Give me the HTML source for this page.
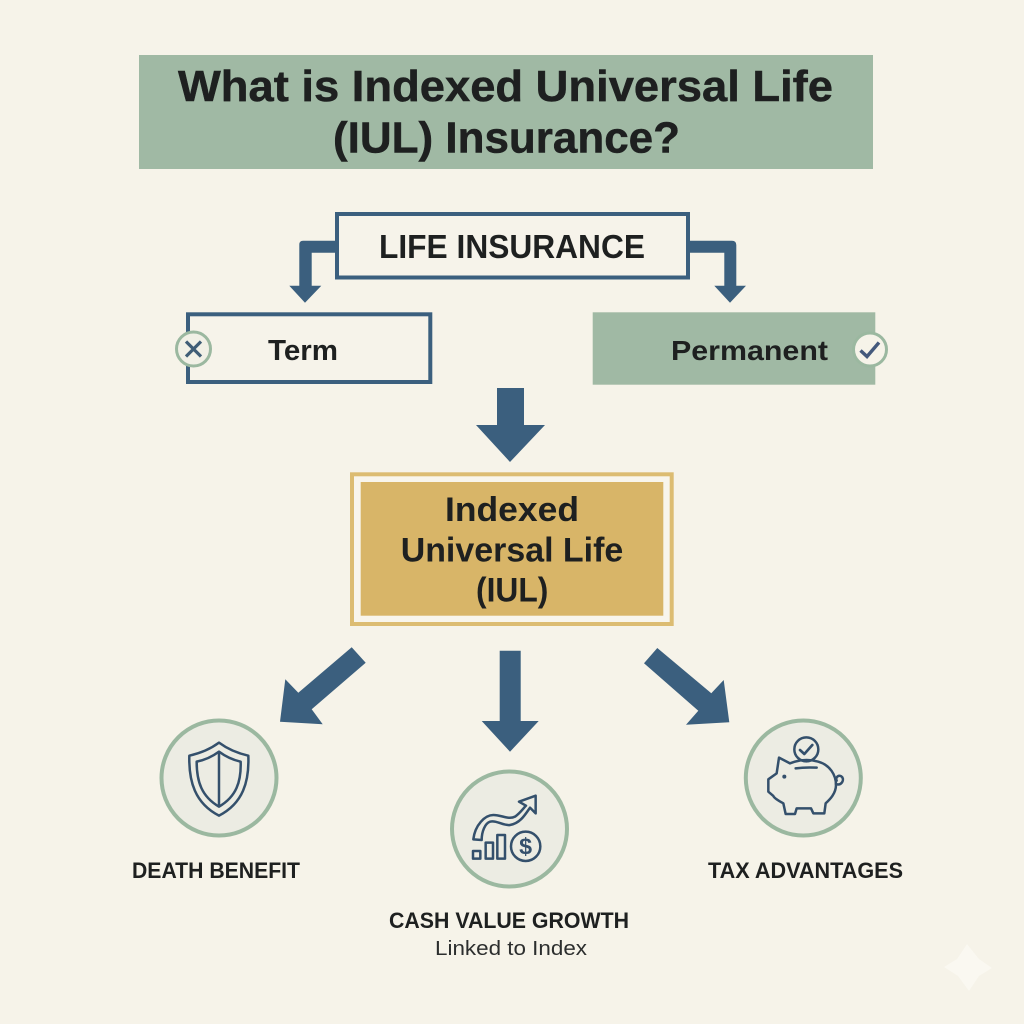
<!DOCTYPE html>
<html lang="en">
<head>
<meta charset="utf-8">
<title>What is Indexed Universal Life (IUL) Insurance?</title>
<style>
html,body{margin:0;padding:0;background:#f6f3e9}
svg{display:block}
text{font-family:"Liberation Sans",sans-serif;font-weight:700;fill:#1e2020}
</style>
</head>
<body>
<svg xmlns="http://www.w3.org/2000/svg" width="1024" height="1024" viewBox="0 0 1024 1024">
<rect width="1024" height="1024" fill="#f6f3e9"/>

<!-- Title -->
<rect x="139" y="55" width="734" height="114" fill="#a0b9a4"/>
<text x="178" y="101" font-size="44" textLength="655" lengthAdjust="spacingAndGlyphs" stroke="#1e2020" stroke-width=".5">What is Indexed Universal Life</text>
<text x="333" y="152.5" font-size="44" textLength="347" lengthAdjust="spacingAndGlyphs" stroke="#1e2020" stroke-width=".5">(IUL) Insurance?</text>

<!-- Life insurance -->
<rect x="337" y="214" width="351" height="63.5" fill="#f6f3ea" stroke="#3b5f7e" stroke-width="4"/>
<text x="379" y="258" font-size="33" textLength="266" lengthAdjust="spacingAndGlyphs">LIFE INSURANCE</text>

<!-- Elbow arrows -->
<path d="M335 240.7H303Q299.3 240.7 299.3 244.5V285.7H289.3L305 302.7L321.3 285.7H311.7V252.7H335Z" fill="#3b5f7e"/>
<path d="M690 240.7H732Q736.3 240.7 736.3 245V285.7H746L730 302.7L714.3 285.7H724.3V252.7H690Z" fill="#3b5f7e"/>

<!-- Term -->
<rect x="188" y="314.3" width="242.3" height="67.7" fill="#f6f3ea" stroke="#3b5f7e" stroke-width="4"/>
<text x="268" y="360" font-size="29" textLength="70" lengthAdjust="spacingAndGlyphs">Term</text>
<circle cx="193.5" cy="349" r="17" fill="#f1f0e6" stroke="#9bb8a0" stroke-width="3"/>
<path d="M186 341.5L201 356.5M201 341.5L186 356.5" stroke="#3f5d76" stroke-width="3.2" fill="none"/>

<!-- Permanent -->
<rect x="592.7" y="312.3" width="282.6" height="72.4" fill="#a0b9a4"/>
<text x="671" y="360" font-size="28" textLength="157" lengthAdjust="spacingAndGlyphs">Permanent</text>
<circle cx="870" cy="349.5" r="16.5" fill="#f6f3e9" stroke="#9bb8a0" stroke-width="3"/>
<path d="M860.5 350.5L867 356.5L879 342.5" stroke="#44597c" stroke-width="3.4" fill="none"/>

<!-- Middle arrow -->
<path d="M497 388H524V425H545L510 462L476 425H497Z" fill="#3b5f7e"/>

<!-- IUL box -->
<rect x="352" y="474.3" width="319.7" height="149.7" fill="#f8f5ec" stroke="#dcbc72" stroke-width="4"/>
<rect x="360.7" y="482" width="302.6" height="133.7" fill="#d8b568"/>
<text x="445" y="521" font-size="34" textLength="134" lengthAdjust="spacingAndGlyphs">Indexed</text>
<text x="400.7" y="561.7" font-size="34" textLength="222.6" lengthAdjust="spacingAndGlyphs">Universal Life</text>
<text x="476" y="601.7" font-size="34" textLength="72.3" lengthAdjust="spacingAndGlyphs">(IUL)</text>

<!-- Lower arrows -->
<polygon points="351.7,647.3 365.7,662.7 311.7,709.3 322.7,724.3 280,721.7 285.3,679.3 298.3,692.7" fill="#3b5f7e"/>
<polygon points="499.7,650.7 520.7,650.7 520.7,721 538.7,721 510,751.7 481.7,721 499.7,721" fill="#3b5f7e"/>
<polygon points="657.3,648 644,663.3 698.3,710.7 686,724.7 729.3,722.3 723.7,680 711.3,693.3" fill="#3b5f7e"/>

<!-- Circles -->
<circle cx="219" cy="778" r="57.5" fill="#ecece3" stroke="#9bb8a0" stroke-width="4"/>
<circle cx="509.5" cy="829" r="57.5" fill="#ecece3" stroke="#9bb8a0" stroke-width="4"/>
<circle cx="803.3" cy="778" r="57.5" fill="#ecece3" stroke="#9bb8a0" stroke-width="4"/>

<!-- Shield icon -->
<g transform="translate(150 710) scale(.3333)" fill="none" stroke="#34506c" stroke-width="7.5" stroke-linejoin="round">
<path d="M207 98C180 118 150 130 118 137C116 215 135 280 207 317C279 280 298 215 295 137C263 130 234 118 207 98Z"/>
<path d="M207 125C187 140 165 150 140 155C140 215 155 260 207 290C259 260 274 215 272 155C249 150 227 140 207 125Z"/>
<path d="M207 125V290"/>
</g>

<!-- Growth icon -->
<g transform="translate(440 760) scale(.3333)" fill="none" stroke="#34506c" stroke-width="7.5" stroke-linejoin="round">
<rect x="99" y="273" width="22" height="23"/>
<rect x="137" y="248" width="22" height="48"/>
<rect x="172" y="225" width="23" height="71"/>
<circle cx="257" cy="259" r="44"/>
<path d="M100 238C105 195 135 165 160 165C185 165 205 180 225 170C240 160 250 145 258 137L237 125L287 107L287 160L270 143C255 165 240 190 210 195C190 198 170 180 150 185C135 190 125 215 125 240Z"/>
<text x="257" y="284" font-size="70" text-anchor="middle" stroke="none" style="fill:#34506c">$</text>
</g>

<!-- Piggy icon -->
<g transform="translate(735 710) scale(.3333)" fill="none" stroke="#34506c" stroke-width="7.5" stroke-linejoin="round" stroke-linecap="round">
<circle cx="214" cy="118" r="36"/>
<path d="M195 120L208 132L232 105" stroke-width="8"/>
<path d="M132 143L165 160C195 148 225 148 250 155C285 165 303 195 303 225C303 250 285 268 272 280L268 310H235L228 295H185L180 312H152L145 280C130 272 118 265 115 258L100 245V208L125 190Z"/>
<path d="M182 175C205 172 225 172 245 173"/>
<circle cx="148" cy="200" r="6" fill="#34506c" stroke="none"/>
<path d="M303 222C318 228 328 212 322 202C314 192 300 200 305 212"/>
</g>

<!-- Labels -->
<text x="132" y="878" font-size="22" textLength="168" lengthAdjust="spacingAndGlyphs">DEATH BENEFIT</text>
<text x="708" y="878" font-size="22" textLength="195" lengthAdjust="spacingAndGlyphs">TAX ADVANTAGES</text>
<text x="389" y="928" font-size="22" textLength="240" lengthAdjust="spacingAndGlyphs">CASH VALUE GROWTH</text>
<text x="435" y="955" font-size="20" textLength="152" lengthAdjust="spacingAndGlyphs" style="font-weight:400;fill:#2c2e2e">Linked to Index</text>

<!-- Sparkle -->
<path d="M967 944L979 959L992 968L979 976L969 991L958 976L944 967L957 959Z" fill="#faf8f1"/>
</svg>
</body>
</html>
